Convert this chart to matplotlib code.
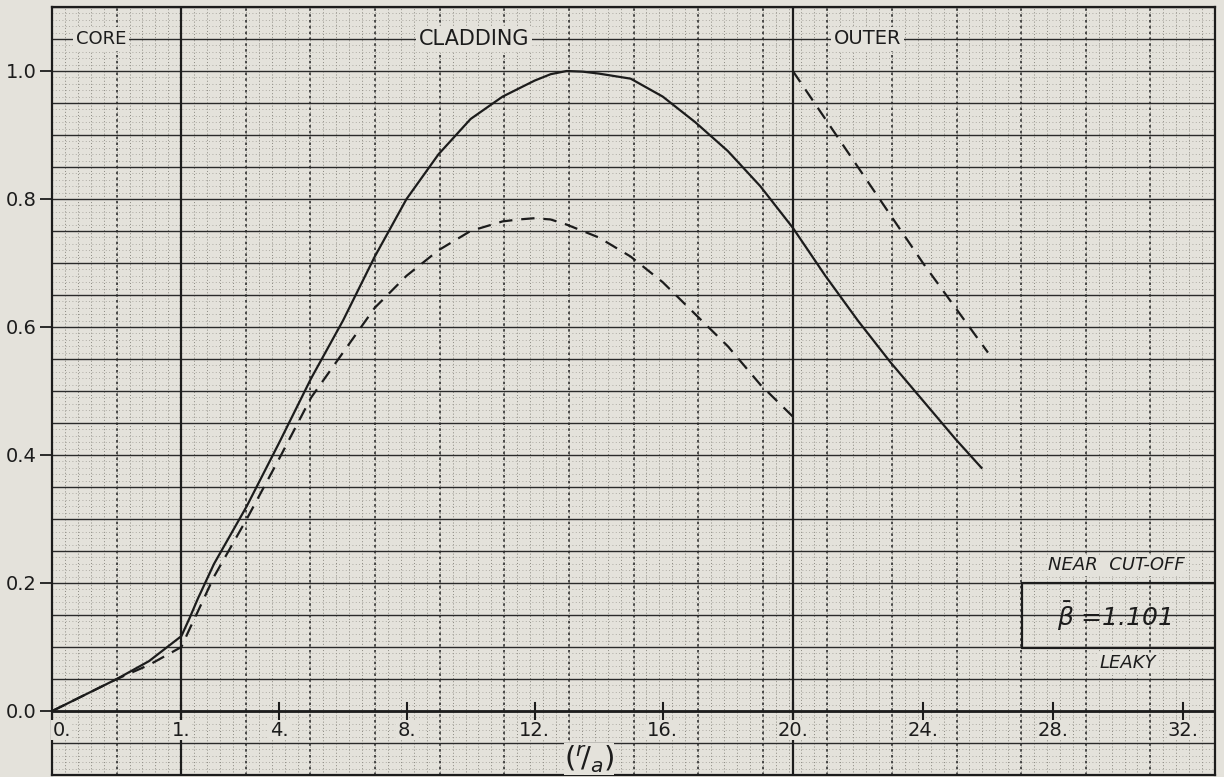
import numpy as np
import matplotlib.pyplot as plt
from matplotlib.patches import Rectangle

# hand-written ticks on the r/a axis (the sheet spacing is uneven below 4)
x_ticks = [0, 1, 4, 8, 12, 16, 20, 24, 28, 32]
x_tick_labels = ['0.', '1.', '4.', '8.', '12.', '16.', '20.', '24.', '28.', '32.']
y_ticks = [0.0, 0.2, 0.4, 0.6, 0.8, 1.0]
y_tick_labels = ['0.0', '0.2', '0.4', '0.6', '0.8', '1.0']

# solid curve, core + cladding + outer
solid_x = [0, 0.25, 0.5, 0.75, 1, 1.25, 1.5, 2, 3, 4, 5, 6, 7, 8, 9, 10, 11,
           12, 12.5, 13, 13.5, 14, 15, 16, 17, 18, 19, 20, 21, 22, 23, 24, 25,
           25.8]
solid_y = [0.0, 0.025, 0.05, 0.078, 0.117, 0.145, 0.175, 0.23, 0.32, 0.42,
           0.52, 0.61, 0.71, 0.80, 0.87, 0.925, 0.96, 0.985, 0.995, 1.0, 0.999,
           0.996, 0.988, 0.96, 0.92, 0.875, 0.82, 0.755, 0.68, 0.61, 0.545,
           0.485, 0.425, 0.38]

# dashed curve, core + cladding
dash_x = [0, 0.25, 0.5, 0.75, 1, 1.25, 1.5, 2, 3, 4, 5, 6, 7, 8, 9, 10, 11,
          11.5, 12, 12.5, 13, 14, 15, 16, 17, 18, 19, 20]
dash_y = [0.0, 0.025, 0.05, 0.072, 0.1, 0.128, 0.155, 0.21, 0.30, 0.395, 0.49,
          0.56, 0.63, 0.68, 0.72, 0.75, 0.765, 0.768, 0.77, 0.768, 0.76, 0.74,
          0.71, 0.67, 0.62, 0.57, 0.51, 0.46]

# dashed curve, outer region
outer_x = [20, 21, 22, 23, 24, 25, 26]
outer_y = [1.0, 0.925, 0.85, 0.775, 0.70, 0.63, 0.56]

paper = '#e4e2db'
ink = '#1c1c1c'

# position of each tick along the sheet, in 4-unit-cell widths
sheet = np.array([0, 129, 227, 354, 482, 610, 740, 870, 1000, 1130]) / 32.5
xs_ext = np.r_[-32, x_ticks, 64]
ps_ext = np.r_[-32, sheet, sheet[-1] + 32]


def fwd(x):
    return np.interp(np.asarray(x, float), xs_ext, ps_ext)


def inv(u):
    return np.interp(np.asarray(u, float), ps_ext, xs_ext)


fig = plt.figure(figsize=(12.24, 7.77), dpi=100, facecolor=paper)
ax = fig.add_axes([52 / 1224, 2 / 777, 1163 / 1224, 768 / 777], facecolor=paper)
ax.set_xscale('function', functions=(fwd, inv))
ax.set_xlim(-0.008, 32.98)
ax.set_ylim(-0.1, 1.1)

# graph paper: fine dots, dotted cell lines, solid rows
for f in np.linspace(0, 1, 18 * 5 + 1):
    ax.plot([f, f], [0, 1], transform=ax.transAxes, color='#8a8880', lw=0.7,
            ls=(0, (1, 2.2)), zorder=0)
for f in np.linspace(0, 1, 24 * 5 + 1):
    ax.plot([0, 1], [f, f], transform=ax.transAxes, color='#9c9a92', lw=0.6,
            ls=(0, (1, 3)), zorder=0)
for f in np.linspace(0, 1, 19):
    ax.plot([f, f], [0, 1], transform=ax.transAxes, color='#333333', lw=1.2,
            ls=(0, (1.5, 2)), zorder=1)
for yy in np.arange(-0.1, 1.101, 0.05):
    ax.axhline(yy, color='#2a2a2a', lw=1.0, zorder=1)
ax.axhline(0.0, color=ink, lw=2.0, zorder=2)
ax.axvline(1, color=ink, lw=1.6, zorder=2)
ax.axvline(20, color=ink, lw=1.6, zorder=2)

# curves
ax.plot(solid_x, solid_y, color=ink, lw=1.6, zorder=4)
ax.plot(dash_x, dash_y, color=ink, lw=1.6, ls=(0, (6, 4)), zorder=4)
ax.plot(outer_x, outer_y, color=ink, lw=1.6, ls=(0, (6, 4)), zorder=4)

# axis ticks and labels
ax.set_xticks([])
ax.set_yticks(y_ticks, y_tick_labels)
ax.tick_params(axis='y', length=9, width=1.3, color=ink, pad=2,
               labelsize=14, labelcolor=ink)
for t, lab in zip(x_ticks, x_tick_labels):
    ax.plot([t, t], [-0.012, 0.012], color=ink, lw=1.5, zorder=3)
    ax.text(t, -0.03, lab, ha='left' if t == 0 else 'center', va='center',
            fontsize=14, color=ink, zorder=5,
            bbox=dict(fc=paper, ec='none', pad=0.5))

ax.text(13.7, -0.075, r'$(^{r}\!/_{a})$', ha='center', va='center',
        fontsize=21, color=ink, zorder=5, bbox=dict(fc=paper, ec='none', pad=0))

# region names on the top rule
for xr, name, fs in [(0.38, 'CORE', 13), (10.1, 'CLADDING', 15),
                     (22.3, 'OUTER', 14)]:
    ax.text(xr, 1.05, name, ha='center', va='center', fontsize=fs, color=ink,
            zorder=5, bbox=dict(fc=paper, ec='none', pad=2))

# annotation box, lower right
ax.text(29.95, 0.228, 'NEAR  CUT-OFF', ha='center', va='center', fontsize=13,
        style='italic', color=ink, zorder=5, bbox=dict(fc=paper, ec='none', pad=1))
ax.add_patch(Rectangle((27.05, 0.098), 6.0, 0.102, fill=False, ec=ink, lw=1.6,
                       zorder=5))
ax.text(29.9, 0.147, r'$\bar{\beta}$ =1.101', ha='center', va='center',
        fontsize=18, style='italic', color=ink, zorder=5)
ax.text(30.3, 0.075, 'LEAKY', ha='center', va='center', fontsize=13,
        style='italic', color=ink, zorder=5, bbox=dict(fc=paper, ec='none', pad=1))

for s in ax.spines.values():
    s.set_color(ink)
    s.set_linewidth(1.6)

fig.savefig('out.png', dpi=100, facecolor=paper)
